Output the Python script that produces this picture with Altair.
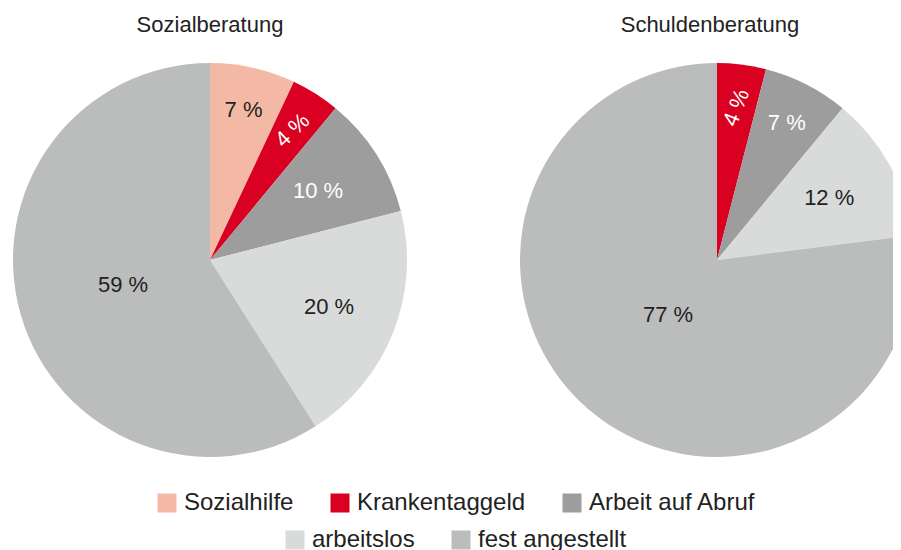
import altair as alt
import pandas as pd

categories = ["Sozialhilfe", "Krankentaggeld", "Arbeit auf Abruf", "arbeitslos", "fest angestellt"]
pies = ["Sozialberatung", "Schuldenberatung"]
sozialberatung = [7, 4, 10, 20, 59]
schuldenberatung = [0, 4, 7, 12, 77]
colors = ["#F4B9A5", "#DA0021", "#9D9D9D", "#D9DADA", "#BBBCBC"]

rows = []
for pie, vals in zip(pies, [sozialberatung, schuldenberatung]):
    for i, (c, v) in enumerate(zip(categories, vals)):
        rows.append({"pie": pie, "category": c, "value": v, "idx": i})
df = pd.DataFrame(rows)

FONT = "Liberation Sans"
R = 197          # pie radius in px
SIZE = 2 * R


def legend(x, y):
    return alt.Legend(
        title=None, orient="none", legendX=x, legendY=y,
        direction="horizontal", symbolType="square", symbolSize=361,
        symbolStrokeWidth=0, labelFontSize=24, labelFont=FONT,
        labelColor="#222222", columnPadding=34, labelOffset=5,
        labelLimit=400, padding=0, symbolOpacity=1,
    )


def panel(name, title_dx):
    base = (
        alt.Chart(df)
        .transform_filter(alt.datum.pie == name)
        .transform_window(cum="sum(value)", sort=[{"field": "idx"}], frame=[None, 0])
        .transform_calculate(
            start="(datum.cum - datum.value) / 100 * 2 * PI",
            end="datum.cum / 100 * 2 * PI",
            mid="(datum.cum - datum.value / 2) / 100 * 2 * PI",
        )
    )
    arcs_a = (
        base.transform_filter(alt.datum.idx < 3)
        .mark_arc(outerRadius=R)
        .encode(
            theta=alt.Theta("start:Q", scale=None),
            theta2="end:Q",
            color=alt.Color(
                "category:N",
                scale=alt.Scale(domain=categories[:3], range=colors[:3]),
                legend=legend(142, 428),
            ),
        )
    )
    arcs_b = (
        base.transform_filter(alt.datum.idx >= 3)
        .mark_arc(outerRadius=R)
        .encode(
            theta=alt.Theta("start:Q", scale=None),
            theta2="end:Q",
            fill=alt.Fill(
                "category:N",
                scale=alt.Scale(domain=categories[3:], range=colors[3:]),
                legend=legend(270, 465),
            ),
        )
    )
    labels = (
        base.transform_filter(alt.datum.value > 0)
        .transform_calculate(
            r=f"{R} * (datum.value < 10 ? 0.78 : datum.value <= 20 ? 0.65 : 0.46 - 0.0047 * (datum.value - 59))",
            ang="datum.category == 'Krankentaggeld' ? 284 + datum.mid * 180 / PI : 0",
            label="datum.value + ' %'",
        )
        .mark_text(fontSize=22, font=FONT, align="center", baseline="middle")
        .encode(
            theta=alt.Theta("mid:Q", scale=None),
            radius=alt.Radius("r:Q", scale=None),
            angle=alt.Angle("ang:Q", scale=None),
            text="label:N",
            color=alt.condition(
                "datum.category == 'Krankentaggeld' || datum.category == 'Arbeit auf Abruf'",
                alt.value("#ffffff"),
                alt.value("#222222"),
            ),
        )
    )
    return alt.layer(arcs_a, arcs_b, labels).properties(
        width=SIZE,
        height=SIZE,
        title=alt.TitleParams(
            name, fontSize=22, font=FONT, fontWeight="normal", color="#222222",
            offset=26, anchor="middle", dx=title_dx,
        ),
    )


chart = (
    alt.hconcat(panel(pies[0], 0), panel(pies[1], -7), spacing=113)
    .properties(padding={"left": 5, "top": 6, "right": -21, "bottom": 0})
    .configure_view(strokeWidth=0)
    .configure(background="white")
)

chart.save("out.html", embed_options={"renderer": "svg", "actions": False})
